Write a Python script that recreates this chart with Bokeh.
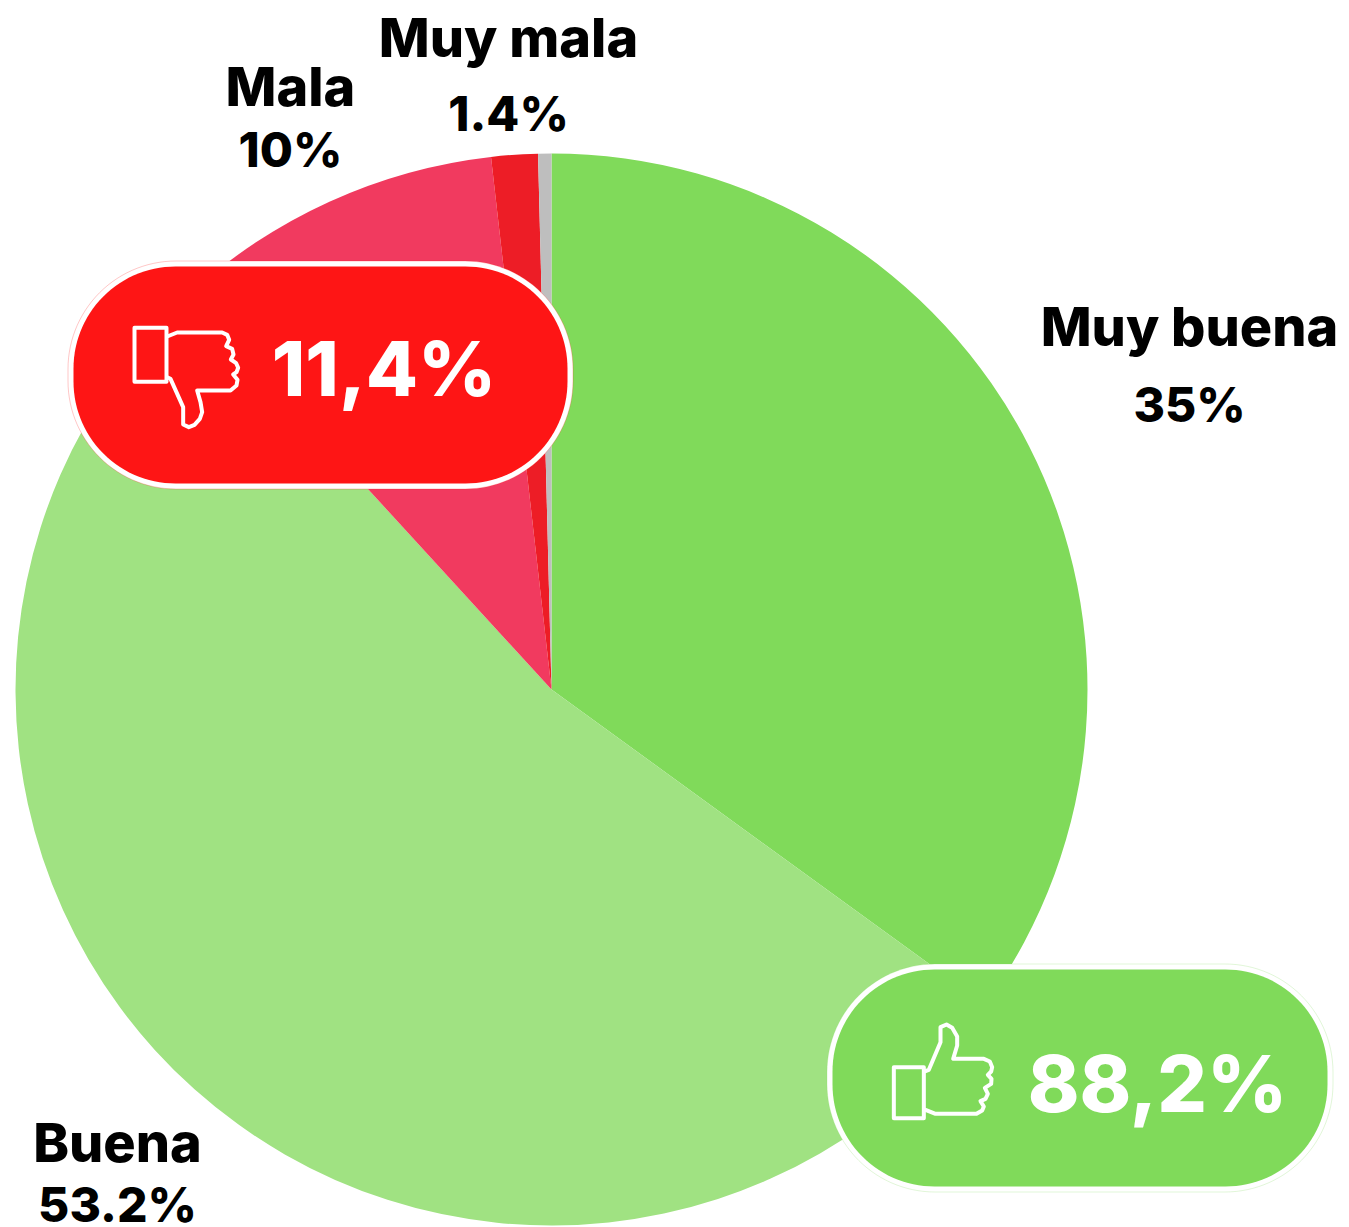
import math
from bokeh.plotting import figure
from bokeh.models import Range1d
from bokeh.core.properties import value
from bokeh.embed import file_html
from bokeh.resources import INLINE

W, H = 1349, 1227
FONT = "Inter ExtraBold"

categories = ["Muy buena", "Buena", "Mala", "Muy mala", "Sin dato"]
shares = [35.0, 53.2, 10.0, 1.4, 0.4]
share_labels = ["35%", "53.2%", "10%", "1.4%", None]
colors = ["#80DA5A", "#A0E282", "#F13A5F", "#ED1D26", "#BEBEBE"]
positive_total = "88,2%"
negative_total = "11,4%"

def Y(y):
    return H - y

p = figure(width=W, height=H, x_range=Range1d(0, W), y_range=Range1d(0, H),
           output_backend="svg", toolbar_location=None, min_border=0,
           x_axis_type=None, y_axis_type=None, outline_line_color=None)
p.grid.visible = False
p.background_fill_color = "white"
p.border_fill_color = "white"

# pie, clockwise from 12 o'clock
cx, cy, r = 551, 689, 536
a = math.pi / 2
total = sum(shares)
for s, c in zip(shares, colors):
    b = a - 2 * math.pi * s / total
    p.wedge(x=[cx], y=[Y(cy)], radius=r, start_angle=b, end_angle=a,
            fill_color=c, line_color=None)
    a = b

BASE = 0.37  # distance the renderer puts the alphabetic baseline under the anchor, in em
def put(x, y, txt, size, color):
    p.text(x=[x], y=[Y(y - BASE * size)], text=[txt], text_font=value(FONT), text_font_style="bold",
           text_color=color, text_align="center", text_baseline="alphabetic",
           text_font_size=f"{size}px")

placement = {"Muy buena": (1189, 346, 422), "Buena": (117, 1162, 1222),
             "Mala": (290, 106, 167), "Muy mala": (508, 57, 131)}
for cat, lab in zip(categories, share_labels):
    if lab is None:
        continue
    x, y1, y2 = placement[cat]
    put(x, y1, cat, 54, "#000000")
    put(x, y2, lab, 48, "#000000")

def pill(x0, x1, y0, y1, rad):
    xs, ys = [], []
    for (mx, my, st) in [(x1 - rad, y0 + rad, -90), (x1 - rad, y1 - rad, 0),
                         (x0 + rad, y1 - rad, 90), (x0 + rad, y0 + rad, 180)]:
        for k in range(0, 31):
            t = math.radians(st + 3 * k)
            xs.append(mx + rad * math.cos(t))
            ys.append(Y(my + rad * math.sin(t)))
    return xs, ys

for (x0, x1, y0, y1, col) in [(73, 567, 266, 483, "#FE1515"), (832, 1327, 969, 1186, "#80DA5A")]:
    xs, ys = pill(x0 - 5.5, x1 + 5.5, y0 - 5.5, y1 + 5.5, 108)
    p.patch(xs, ys, fill_color="white", line_color=col, line_alpha=0.3, line_width=0.8)
    xs, ys = pill(x0, x1, y0, y1, 102)
    p.patch(xs, ys, fill_color=col, line_color=None)

# icons, traced as zoom-crop coordinates (3x)
def icon(points, ox, oy):
    return [ox + q[0] / 3 for q in points], [Y(oy + q[1] / 3) for q in points]

down_rect = [(222, 232), (318, 232), (318, 394), (222, 394), (222, 232)]
down_hand = [(320, 258), (350, 246), (485, 246), (500, 253), (506, 268), (497, 287), (515, 295), (519, 312),
             (511, 327), (527, 338), (533, 352), (528, 365), (518, 372), (531, 388), (528, 405), (510, 420),
             (410, 420), (420, 455), (425, 485), (418, 505), (402, 523), (385, 530), (368, 522), (368, 470),
             (330, 385), (320, 380)]
up_rect = [(220, 350), (310, 350), (310, 503), (220, 503), (220, 350)]
up_hand = [(315, 362), (325, 358), (360, 275), (360, 230), (378, 222), (395, 232), (410, 258), (410, 285),
           (398, 325), (490, 325), (508, 333), (515, 350), (512, 363), (502, 373), (513, 385), (512, 400),
           (493, 412), (502, 430), (495, 445), (480, 452), (490, 468), (485, 480), (468, 490), (345, 490),
           (315, 478)]
for pts, ox, oy in [(down_rect, 60, 250), (down_hand, 60, 250), (up_rect, 820, 950), (up_hand, 820, 950)]:
    xs, ys = icon(pts, ox, oy)
    p.line(xs, ys, line_color="white", line_width=4, line_join="round", line_cap="round")

put(383.5, 396, negative_total, 76, "white")
put(1157, 1112, positive_total, 78, "white")

open("out.html", "w").write(file_html(p, INLINE))
